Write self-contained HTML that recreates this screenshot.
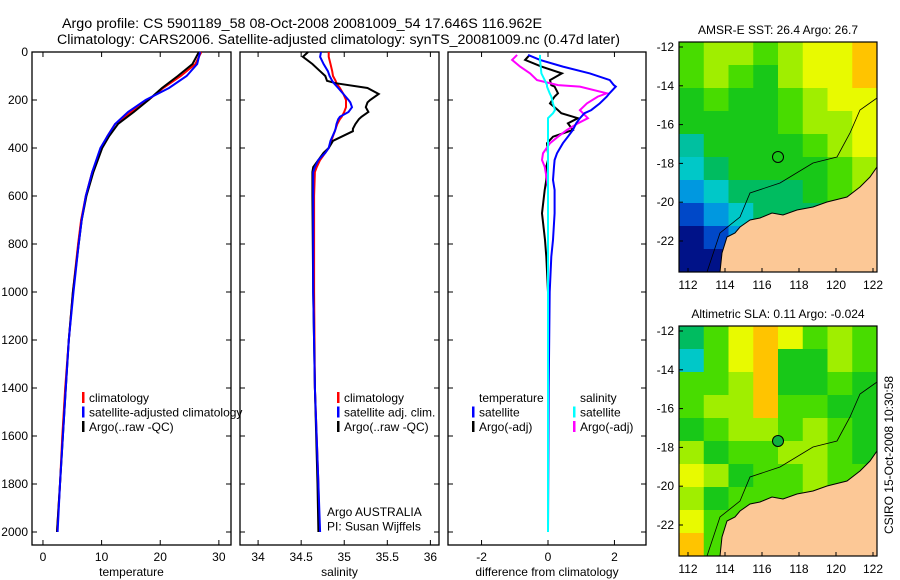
<!DOCTYPE html>
<html><head><meta charset="utf-8"><style>
body{margin:0;background:#fff}
svg{display:block;font-family:"Liberation Sans",sans-serif}
</style></head><body>
<svg id="s" width="900" height="580" viewBox="0 0 900 580">
<text x="62" y="28" font-size="13.5" textLength="480" lengthAdjust="spacingAndGlyphs">Argo profile: CS 5901189_58 08-Oct-2008 20081009_54 17.646S 116.962E</text>
<text x="57" y="44" font-size="13.5" textLength="563" lengthAdjust="spacingAndGlyphs">Climatology: CARS2006. Satellite-adjusted climatology: synTS_20081009.nc (0.47d later)</text>
<g id="panels"></g>
<g id="maps"></g>
<text transform="translate(893,455) rotate(-90)" font-size="12" text-anchor="middle">CSIRO 15-Oct-2008 10:30:58</text>
</svg>
<script>
// ---- data ----
const depthTicks=[0,200,400,600,800,1000,1200,1400,1600,1800,2000];
const tempTicks=[0,10,20,30];
const salTicks=[34,34.5,35,35.5,36];
const diffTicks=[-2,0,2];
const tDepth=[0,50,100,150,200,250,300,350,400,500,600,700,800,1000,1200,1400,1600,1800,2000];
const tClim=[27,26,23.5,20.5,18,15,12.3,11,10,8.4,7.3,6.5,6,5.1,4.4,3.8,3.3,2.9,2.4];
const tSat=[26.8,26.3,24.5,21.5,17.5,14.5,12.3,11,9.8,8.4,7.3,6.6,6.1,5.2,4.4,3.9,3.4,2.9,2.5];
const tArgo=[26.6,25.5,23,20.3,18,15.5,12.8,11.3,10.1,8.6,7.4,6.6,6.1,5.1,4.4,3.9,3.4,2.9,2.4];
const sDepth=[0,20,50,80,100,120,130,150,175,200,210,230,250,270,280,300,320,330,370,400,420,450,480,500,600,1000,1400,1800,2000];
const sClim=[34.82,34.82,34.84,34.86,34.87,34.9,34.91,34.95,34.99,35.02,35.02,35.02,35.0,34.97,34.95,34.92,34.9,34.89,34.85,34.82,34.78,34.72,34.68,34.66,34.65,34.65,34.66,34.7,34.71];
const sSat=[34.73,34.72,34.76,34.81,34.83,34.86,34.88,34.93,34.99,35.05,35.07,35.09,35.05,34.95,34.93,34.91,34.9,34.89,34.84,34.82,34.78,34.7,34.66,34.64,34.64,34.64,34.66,34.7,34.72];
const sArgo=[34.58,34.52,34.63,34.72,34.78,34.8,34.9,35.27,35.4,35.3,35.27,35.25,35.28,35.2,35.17,35.13,35.1,35.1,34.87,34.82,34.76,34.7,34.64,34.63,34.63,34.64,34.66,34.69,34.7];
const dDepth=[12,33,61,89,117,138,144,172,186,214,242,255,276,297,325,353,380,422,450,478,533,575,672,783,853,1000,1400,2000];
const dTempSat=[-0.6,-0.24,0.45,1.26,1.86,1.98,2.04,1.85,1.77,1.56,1.3,1.1,0.96,0.85,0.75,0.6,0.45,0.27,0.2,0.18,0.15,0.2,0.2,0.15,0.1,0.05,0.02,0];
const dTempArgo=[-0.55,-0.69,-0.2,0.42,0.06,0.1,0.2,0.3,0.2,0.06,0.3,0.4,0.9,0.6,0.75,0.15,-0.03,0,0,-0.05,-0.05,-0.1,-0.18,-0.09,-0.05,0,0,0];
const dSalSat=[-0.24,-0.24,-0.22,-0.2,-0.1,-0.03,-0.03,0.05,0.1,0.15,0.21,0.15,0,0,0,0,0,0,0,0,0,0,0,0,0,0,0,0];
const dSalArgo=[-0.93,-1.08,-0.84,-0.54,-0.33,0.3,0.96,1.77,1.5,1.17,0.96,1.05,1.2,0.9,0.57,0.3,0.06,-0.15,-0.18,-0.1,-0.03,0,0,0,0,0,0,0];

const NS='http://www.w3.org/2000/svg';
function mk(p,tag,at){const e=document.createElementNS(NS,tag);for(const k in at)e.setAttribute(k,at[k]);p.appendChild(e);return e;}
const Y0=52,Y1=545;
function yD(d){return Y0+d*0.24;}
const panelsG=document.getElementById('panels');

function panel(name,x0,x1,xmin,xmax,ticks,label,showY){
  const g=mk(panelsG,'g',{});
  
  
  const xs=v=>x0+(v-xmin)/(xmax-xmin)*(x1-x0);
  const fr=mk(g,'rect',{x:x0,y:Y0,width:x1-x0,height:Y1-Y0,fill:'none',stroke:'#000','stroke-width':1.3});
  
  
  depthTicks.forEach(d=>{
    mk(g,'line',{x1:x0,x2:x0+5,y1:yD(d),y2:yD(d),stroke:'#000'});
    mk(g,'line',{x1:x1,x2:x1-5,y1:yD(d),y2:yD(d),stroke:'#000'});
    if(showY){const t=mk(g,'text',{x:x0-4,y:yD(d)+4,'font-size':12,'text-anchor':'end'});t.textContent=d;
      
      }
  });
  ticks.forEach(v=>{
    const x=xs(v);
    mk(g,'line',{x1:x,x2:x,y1:Y1,y2:Y1-5,stroke:'#000'});
    mk(g,'line',{x1:x,x2:x,y1:Y0,y2:Y0+5,stroke:'#000'});
    const t=mk(g,'text',{x:x,y:561,'font-size':12,'text-anchor':'middle'});t.textContent=v;
    
    
  });
  const lb=mk(g,'text',{x:(x0+x1)/2,y:576,'font-size':12,'text-anchor':'middle'});lb.textContent=label;
  
  
  return {g,xs};
}
function line(p,xs,depths,vals,col,name){
  const pts=depths.map((d,i)=>xs(vals[i]).toFixed(1)+','+yD(d).toFixed(1)).join(' ');
  const l=mk(p.g,'polyline',{points:pts,fill:'none',stroke:col,'stroke-width':2});
  
  
}
function legend(g,x,y,items){
  items.forEach((it,i)=>{
    if(it[0])mk(g,'rect',{x:x,y:y+i*14.5-10,width:2.5,height:11,fill:it[0]});
    const t=mk(g,'text',{x:x+7,y:y+i*14.5,'font-size':12});t.textContent=it[1];
    
    
  });
}
const p1=panel('temperature-panel',32,231,-1.87,32.07,tempTicks,'temperature',true);
line(p1,p1.xs,tDepth,tClim,'#f00','temp-climatology-line');
line(p1,p1.xs,tDepth,tArgo,'#000','temp-argo-line');
line(p1,p1.xs,tDepth,tSat,'#00f','temp-satellite-line');
legend(p1.g,82,402,[['#f00','climatology'],['#00f','satellite-adjusted climatology'],['#000','Argo(..raw -QC)']]);

const p2=panel('salinity-panel',240,439,33.79,36.1,salTicks,'salinity',false);
line(p2,p2.xs,sDepth,sClim,'#f00','sal-climatology-line');
line(p2,p2.xs,sDepth,sArgo,'#000','sal-argo-line');
line(p2,p2.xs,sDepth,sSat,'#00f','sal-satellite-line');
legend(p2.g,337,402,[['#f00','climatology'],['#00f','satellite adj. clim.'],['#000','Argo(..raw -QC)']]);
legend(p2.g,320,516,[[null,'Argo AUSTRALIA'],[null,'PI: Susan Wijffels']]);

const p3=panel('difference-panel',448,646,-3.01,2.95,diffTicks,'difference from climatology',false);
line(p3,p3.xs,dDepth,dTempArgo,'#000','diff-temp-argo-line');
line(p3,p3.xs,dDepth,dSalArgo,'#f0f','diff-sal-argo-line');
line(p3,p3.xs,dDepth,dTempSat,'#00f','diff-temp-satellite-line');
line(p3,p3.xs,dDepth,dSalSat,'#0ff','diff-sal-satellite-line');
legend(p3.g,472,402,[[null,'temperature'],['#00f','satellite'],['#000','Argo(-adj)']]);
legend(p3.g,573,402,[[null,'salinity'],['#0ff','satellite'],['#f0f','Argo(-adj)']]);

// ---- maps ----
const pal={G:'#18c818',g:'#48dc00',L:'#a0ee00',Y:'#e8fa00',O:'#ffc400',T:'#00bc60',C:'#00c8c8',B:'#0098e0',b:'#0048c8',N:'#001288',c:'#00c0a0'};
const sstRows=['gLLgLYYO','gLgGLYYO','GgGGgLYY','GGGGgLLY','cGGGGgLY','CTGGGGgL','BCTTTGgL','bBCTTTGg','NbBCTTGG','NNbBCTGG'];
const slaRows=['TgYOYgLg','CgYOGGLg','ggLOGGgG','gLLOggGG','GgLLgLgG','LGggLLgG','YLGggLgg','LGgggLgg','YggLgggg','OggLgggg'];
const mapsG=document.getElementById('maps');
function map(name,oy,title,rows,circFill){
  const g=mk(mapsG,'g',{transform:'translate(0,'+oy+')'});
  
  
  const X0=679,X1=877,MY0=42,MY1=272;
  const cw=(X1-X0)/8,ch=(MY1-MY0)/10;
  rows.forEach((r,ri)=>{[...r].forEach((c,ci)=>{
    mk(g,'rect',{x:X0+ci*cw,y:MY0+ri*ch,width:cw+0.5,height:ch+0.5,fill:pal[c]});
  });});
  mk(g,'polygon',{points:'720,272 722,253 727,237 735,233 740,227 750,220 760,218 772,213 783,215 797,210 813,207 827,202 847,197 860,187 870,177 877,167 877,272',fill:'#fcc896',stroke:'#000','stroke-width':1});
  mk(g,'polyline',{points:'707,272 720,233 740,217 750,193 780,183 813,163 837,157 850,133 860,110 877,98',fill:'none',stroke:'#000','stroke-width':0.8});
  mk(g,'circle',{cx:778,cy:157,r:5.5,fill:circFill,stroke:'#000'});
  mk(g,'rect',{x:X0,y:MY0,width:X1-X0,height:MY1-MY0,fill:'none',stroke:'#000','stroke-width':1.2});
  const t=mk(g,'text',{x:778,y:34,'font-size':12,'text-anchor':'middle'});t.textContent=title;
  
  
  [-12,-14,-16,-18,-20,-22].forEach(v=>{
    const y=47+(-12-v)*19.4;
    mk(g,'line',{x1:X0,x2:X0+4,y1:y,y2:y,stroke:'#000'});
    const tt=mk(g,'text',{x:674,y:y+4,'font-size':12,'text-anchor':'end'});tt.textContent=v;
    
    
  });
  [112,114,116,118,120,122].forEach(v=>{
    const x=688+(v-112)*18.5;
    mk(g,'line',{x1:x,x2:x,y1:MY1,y2:MY1-4,stroke:'#000'});
    const tt=mk(g,'text',{x:x,y:289,'font-size':12,'text-anchor':'middle'});tt.textContent=v;
    
    
  });
}
map('sst-map',0,'AMSR-E SST: 26.4  Argo: 26.7',sstRows,'none');
map('sla-map',284,'Altimetric SLA: 0.11  Argo: -0.024',slaRows,'#10b040');
</script>
</body></html>
